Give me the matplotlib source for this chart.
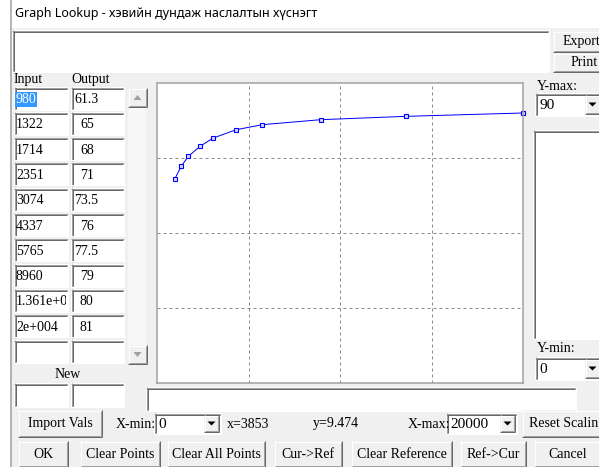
import matplotlib
matplotlib.use('Agg')
from matplotlib import pyplot as plt
from matplotlib.patches import Rectangle, Polygon
from matplotlib.transforms import Bbox, TransformedBbox

# table values shown in the dialog
inputs = [980, 1322, 1714, 2351, 3074, 4337, 5765, 8960, 13610, 20000]
outputs = [61.3, 65, 68, 71, 73.5, 76, 77.5, 79, 80, 81]
input_labels = ['980', '1322', '1714', '2351', '3074', '4337', '5765', '8960', '1.361e+004', '2e+004']
output_labels = ['61.3', '65', '68', '71', '73.5', '76', '77.5', '79', '80', '81']

title = 'Graph Lookup - хэвийн дундаж наслалтын хүснэгт'
x_min, x_max = 0, 20000
y_min, y_max = 0, 90
cursor_x, cursor_y = 'x=3853', 'y=9.474'

W, H = 599, 467
BG = '#f0f0f0'
SERIF = 'Liberation Serif'
FS = 10

fig = plt.figure(figsize=(W / 100, H / 100), dpi=100, facecolor=BG)
bg = fig.add_axes([0, 0, 1, 1])
bg.set_xlim(0, W)
bg.set_ylim(H, 0)
bg.axis('off')

PX = 0.72  # one pixel in points


def line(x0, y0, x1, y1, c, lw=1):
    bg.plot([x0, x1], [y0, y1], color=c, lw=lw * PX, solid_capstyle='butt')


def sunken(x0, y0, x1, y1, fill='white'):
    bg.add_patch(Rectangle((x0, y0), x1 - x0, y1 - y0, facecolor=fill, edgecolor='none'))
    line(x0, y0 + 0.5, x1, y0 + 0.5, '#a0a0a0')
    line(x0 + 0.5, y0, x0 + 0.5, y1, '#a0a0a0')
    line(x0 + 1, y0 + 1.5, x1 - 1, y0 + 1.5, '#696969')
    line(x0 + 1.5, y0 + 1, x0 + 1.5, y1 - 1, '#696969')
    line(x0, y1 - 0.5, x1, y1 - 0.5, 'white')
    line(x1 - 0.5, y0, x1 - 0.5, y1, 'white')


def button(x0, y0, x1, y1, label=None, fill=BG, tx=None):
    bg.add_patch(Rectangle((x0, y0), x1 - x0, y1 - y0, facecolor=fill, edgecolor='none'))
    line(x0, y0 + 0.5, x1, y0 + 0.5, 'white')
    line(x0 + 0.5, y0, x0 + 0.5, y1, 'white')
    line(x0, y1 - 0.5, x1, y1 - 0.5, '#696969')
    line(x1 - 0.5, y0, x1 - 0.5, y1, '#696969')
    line(x0 + 1, y1 - 1.5, x1 - 1, y1 - 1.5, '#a0a0a0')
    line(x1 - 1.5, y0 + 1, x1 - 1.5, y1 - 1, '#a0a0a0')
    if label:
        if tx is None:
            bg.text((x0 + x1) / 2, (y0 + y1) / 2, label, family=SERIF, fontsize=FS,
                    ha='center', va='center')
        else:
            bg.text(tx, (y0 + y1) / 2, label, family=SERIF, fontsize=FS,
                    ha='left', va='center', clip_on=True)


def combo(x0, y0, x1, y1, value):
    sunken(x0, y0, x1, y1)
    bx = x1 - 17
    button(bx, y0 + 2, x1 - 2, y1 - 2)
    cx, cy = (bx + x1 - 2) / 2, (y0 + y1) / 2
    bg.add_patch(Polygon([[cx - 4, cy - 2], [cx + 4, cy - 2], [cx, cy + 2]],
                         closed=True, facecolor='black', edgecolor='none'))
    bg.text(x0 + 4, (y0 + y1) / 2 + 1, value, family=SERIF, fontsize=FS + 1, va='center')


# window frame and title bar
bg.add_patch(Rectangle((0, 0), 10, H, facecolor='white', edgecolor='none'))
bg.add_patch(Rectangle((10, 0), W - 10, 28, facecolor='white', edgecolor='none'))
line(10.5, 0, 10.5, H, '#a0a0a0', 1.5)
bg.text(15, 14, title, family=['Noto Sans', 'DejaVu Sans'], fontsize=9, va='center')

# top message box, Export / Print
sunken(12, 30, 549, 72)
button(553, 31, W + 4, 52, 'Export', tx=563)
button(553, 53, W + 4, 72, 'Print', tx=571)

# Input / Output table
bg.text(14, 79, 'Input', family=SERIF, fontsize=FS, va='center')
bg.text(71, 79, 'Output', family=SERIF, fontsize=FS, va='center')
row_h = 25.3
for i in range(11):
    y0 = 87 + i * row_h
    y1 = y0 + 23
    sunken(14, y0, 68, y1)
    sunken(71, y0, 124, y1)
    if i < len(inputs):
        t = bg.text(16, (y0 + y1) / 2 + 1, input_labels[i], family=SERIF, fontsize=FS,
                    va='center', clip_on=True)
        t.set_clip_box(TransformedBbox(Bbox([[14, y0 + 30], [66, y1 - 30]]), bg.transData))
        t.set_clip_box(TransformedBbox(Bbox.from_extents(14, y0, 66, y1), bg.transData))
        if i == 0:
            t.set_color('white')
            t.set_bbox(dict(facecolor='#3399ff', edgecolor='none', pad=0.5))
        lab = output_labels[i]
        ox = 74 if '.' in lab else 80
        bg.text(ox, (y0 + y1) / 2 + 1, lab, family=SERIF, fontsize=FS, va='center')

# scroll bar
bg.add_patch(Rectangle((128, 88), 18, 275, facecolor='#f7f7f7', edgecolor='none'))
button(128, 88, 147, 107)
button(128, 345, 147, 364)
bg.add_patch(Polygon([[133.5, 100], [141.5, 100], [137.5, 95]], facecolor='#a0a0a0',
                     edgecolor='none'))
bg.add_patch(Polygon([[133.5, 352], [141.5, 352], [137.5, 357]], facecolor='#a0a0a0',
                     edgecolor='none'))

# New entry
bg.text(68, 375, 'New', family=SERIF, fontsize=FS, ha='center', va='center')
sunken(14, 383, 68, 407)
sunken(71, 383, 124, 407)

# right side controls
bg.text(537, 86, 'Y-max:', family=SERIF, fontsize=FS, va='center')
combo(535, 93, W + 3, 116, str(y_max))
sunken(533, 130, W + 3, 339)
bg.text(537, 348, 'Y-min:', family=SERIF, fontsize=FS, va='center')
combo(535, 357, W + 3, 380, str(y_min))

# status box
sunken(146, 387, 576, 411)

# x scaling row
button(18, 410, 102, 437, 'Import Vals')
bg.text(116, 424, 'X-min:', family=SERIF, fontsize=FS, va='center')
combo(154, 413, 221, 434, str(x_min))
bg.text(227, 424, cursor_x, family=SERIF, fontsize=FS, va='center')
bg.text(313, 424, cursor_y, family=SERIF, fontsize=FS, va='center')
bg.text(408, 424, 'X-max:', family=SERIF, fontsize=FS, va='center')
combo(446, 413, 517, 434, str(x_max))
button(522, 410, W + 10, 437, 'Reset Scaling', tx=529)

# bottom buttons
for x0, x1, lab in [(18, 68, 'OK'), (80, 160, 'Clear Points'), (167, 265, 'Clear All Points'),
                    (274, 342, 'Cur->Ref'), (351, 452, 'Clear Reference'),
                    (460, 526, 'Ref->Cur'), (534, W + 2, 'Cancel')]:
    button(x0, 441, x1, 467, lab)

# the graph itself
ax = fig.add_axes([157 / W, 1 - 383 / H, (523 - 157) / W, (383 - 83) / H])
ax.set_facecolor('white')
ax.set_xlim(x_min, x_max)
ax.set_ylim(y_min, y_max)
ax.set_xticks([5000, 10000, 15000])
ax.set_yticks([22.5, 45, 67.5])
ax.tick_params(length=0, labelbottom=False, labelleft=False)
ax.grid(True, color='#8c8c8c', linestyle=(0, (3, 3)), linewidth=1 * PX)
for s in ax.spines.values():
    s.set_color('#a0a0a0')
    s.set_linewidth(1.5 * PX)
ax.plot(inputs, outputs, color='#0000ff', lw=1 * PX, marker='s', markersize=3.2,
        markerfacecolor='#d8d8ff', markeredgecolor='#0000ff', markeredgewidth=0.8,
        clip_on=False)

fig.savefig('out.png', dpi=100, facecolor=BG)
